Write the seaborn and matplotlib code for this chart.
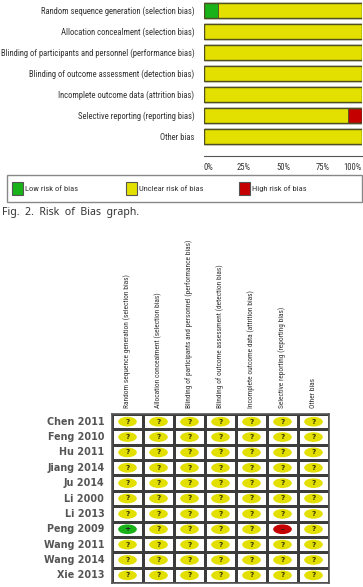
import numpy as np
import pandas as pd
import matplotlib
matplotlib.use("Agg")
from matplotlib import pyplot as plt
from matplotlib import font_manager
from matplotlib.colors import ListedColormap
from matplotlib.patches import Patch, Rectangle
from matplotlib.path import Path
import seaborn as sns

# datos del risk of bias
domains = ['Random sequence generation (selection bias)',
           'Allocation concealment (selection bias)',
           'Blinding of participants and personnel (performance bias)',
           'Blinding of outcome assessment (detection bias)',
           'Incomplete outcome data (attrition bias)',
           'Selective reporting (reporting bias)',
           'Other bias']
studies = ['Chen 2011', 'Feng 2010', 'Hu 2011', 'Jiang 2014', 'Ju 2014', 'Li 2000',
           'Li 2013', 'Peng 2009', 'Wang 2011', 'Wang 2014', 'Xie 2013']
# una fila por estudio, una columna por dominio
judgements = [['?'] * 7 for _ in studies]
judgements[7][0] = '+'
judgements[7][5] = '-'
legend_labels = ['Low risk of bias', 'Unclear risk of bias', 'High risk of bias']
x_ticks = [0, 25, 50, 75, 100]

GREEN, YELLOW, RED = '#19b219', '#e3e000', '#c40000'
colors = {'+': GREEN, '?': YELLOW, '-': RED}

W, H = 363, 587

# buscamos la fuente mas estrecha instalada
names = {f.name for f in font_manager.fontManager.ttflist}
narrow = 'DejaVu Sans'
for cand in ['Liberation Sans Narrow', 'DejaVu Sans Condensed', 'Roboto Condensed',
             'Open Sans Condensed', 'Liberation Sans']:
    if cand in names:
        narrow = cand
        break
NARROW = [narrow, 'DejaVu Sans']


def px_rect(l, t, w, h):
    return [l / W, 1 - (t + h) / H, w / W, h / H]


sns.set_style("white")
plt.rcParams['font.family'] = ['DejaVu Sans']

fig = plt.figure(figsize=(W / 100, H / 100), dpi=100)
renderer = fig.canvas.get_renderer()


def fit_size(text, target_px, family):
    t = fig.text(0, 0, text, fontsize=10, family=family)
    w = t.get_window_extent(renderer).width
    t.remove()
    return 10 * target_px / w


size_top = fit_size(domains[2], 196, NARROW)
size_head = fit_size(domains[2], 168, NARROW)
size_leg = fit_size(legend_labels[1], 64, NARROW)

# porcentajes por dominio
jm = np.array(judgements)
n = len(studies)
df = pd.DataFrame({'domain': domains,
                   'low': (jm == '+').sum(axis=0) / n * 100,
                   'unclear': (jm == '?').sum(axis=0) / n * 100,
                   'high': (jm == '-').sum(axis=0) / n * 100})
df['low_unclear'] = df['low'] + df['unclear']
df['total'] = df['low_unclear'] + df['high']

ax = fig.add_axes(px_rect(204, 0, 158, 147))
edge = '#4f4f22'
sns.barplot(data=df, y='domain', x='total', color=RED, saturation=1, width=0.72,
            edgecolor=edge, linewidth=1, ax=ax)
sns.barplot(data=df, y='domain', x='low_unclear', color=YELLOW, saturation=1, width=0.72,
            edgecolor=edge, linewidth=0.6, ax=ax)
sns.barplot(data=df, y='domain', x='low', color=GREEN, saturation=1, width=0.72,
            edgecolor=edge, linewidth=0.6, ax=ax)
sns.barplot(data=df, y='domain', x='total', fill=False, width=0.72,
            edgecolor=edge, linewidth=1, ax=ax)
for s in ['top', 'right', 'left']:
    ax.spines[s].set_visible(False)
ax.spines['bottom'].set_position(('outward', 6.5))
ax.spines['bottom'].set_color('#555555')
ax.spines['bottom'].set_linewidth(0.8)
ax.set_xlim(0, 100)
ax.set_ylim(6.5, -0.5)
ax.set_xlabel('')
ax.set_ylabel('')
ax.set_xticks(x_ticks)
ax.set_xticklabels([f'{t}%' for t in x_ticks], fontsize=size_top, family=NARROW, color='#333333')
xl = ax.get_xticklabels()
xl[0].set_ha('left')
xl[-1].set_ha('right')
ax.set_yticks(range(len(domains)))
ax.set_yticklabels(domains, fontsize=size_top, family=NARROW, color='#333333')
ax.tick_params(axis='y', left=False, pad=3.5)
ax.tick_params(axis='x', direction='inout', length=6, width=0.8, color='#555555', pad=2)

# leyenda
fig.patches.append(Rectangle((7 / W, 1 - 202 / H), 355 / W, 27 / H, transform=fig.transFigure,
                             facecolor='white', edgecolor='#888888', linewidth=1))
for lab, col, xp in zip(legend_labels, [GREEN, YELLOW, RED], [12, 126, 239]):
    fig.legend(handles=[Patch(facecolor=col, edgecolor='#555555', linewidth=0.8, label=lab)],
               loc='center left', bbox_to_anchor=(xp / W, 1 - 188.5 / H), frameon=False,
               prop={'family': NARROW, 'size': size_leg}, handlelength=1.3, handleheight=2.0,
               handletextpad=0.2, borderpad=0, borderaxespad=0, labelcolor='#333333')

fig.text(2 / W, 1 - 213 / H, 'Fig.  2.  Risk  of  Bias  graph.', fontsize=7.6, va='center',
         family=['Noto Sans', 'DejaVu Sans'], color='#333333')

# risk of bias summary
ax2 = fig.add_axes(px_rect(112, 414, 217, 169))
sns.heatmap(np.zeros((n, len(domains))), cmap=ListedColormap(['white']), cbar=False,
            linewidths=1, linecolor='#3c3c3c', xticklabels=domains, yticklabels=studies, ax=ax2)
for s in ax2.spines.values():
    s.set_visible(True)
    s.set_color('#555555')
    s.set_linewidth(1.2)

cells = pd.DataFrame([(j + 0.5, i + 0.5, judgements[i][j])
                      for i in range(n) for j in range(len(domains))],
                     columns=['x', 'y', 'j'])
circ = Path.unit_circle()
ellipse = Path(circ.vertices * np.array([1.0, 0.52]), circ.codes)
sns.scatterplot(data=cells, x='x', y='y', hue='j', palette=colors, marker=ellipse, s=180,
                linewidth=0, legend=False, ax=ax2)
for _, r in cells.iterrows():
    ax2.text(r['x'], r['y'], r['j'] if r['j'] != '-' else '\u2013', ha='center', va='center',
             fontsize=5.3, fontweight='bold', color='#3a3a00' if r['j'] == '?' else '#222222')
ax2.set_xlim(0, len(domains))
ax2.set_ylim(n, 0)
ax2.set_xlabel('')
ax2.set_ylabel('')
ax2.xaxis.tick_top()
ax2.set_xticklabels(domains, rotation=90, fontsize=size_head, family=NARROW, color='#333333',
                    va='bottom', ha='center')
ax2.set_yticklabels(studies, rotation=0, fontsize=6.9, fontweight='bold', color='#555555')
ax2.tick_params(axis='x', top=False, bottom=False, pad=1)
ax2.tick_params(axis='y', left=False, pad=2)

fig.savefig('out.png', dpi=100)
